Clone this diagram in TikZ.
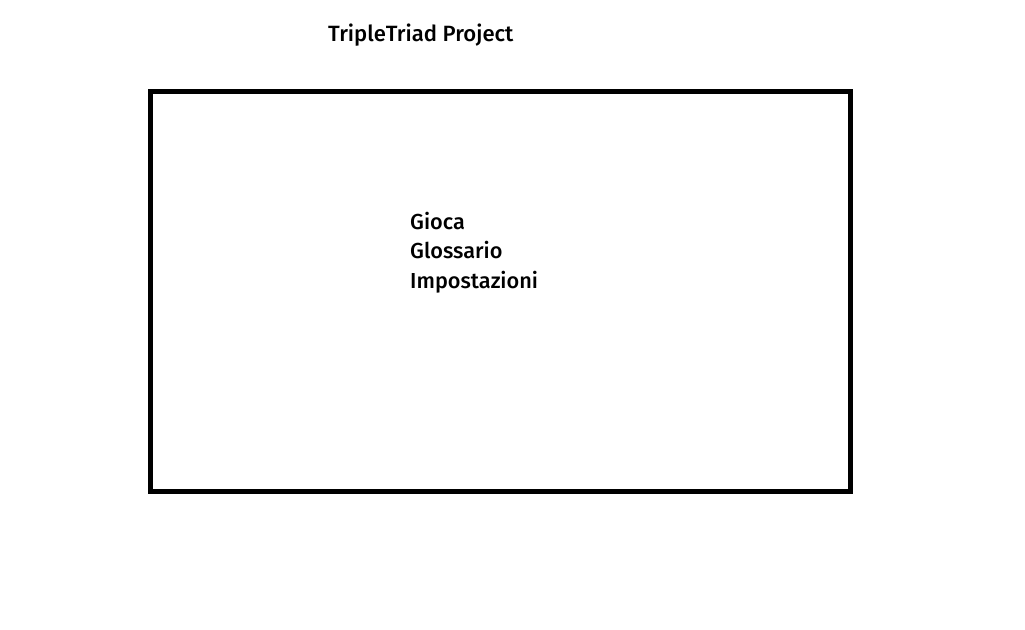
\documentclass[tikz,border=0pt]{standalone}
\usepackage{fontspec}
\setmainfont{Open Sans}
\newfontfamily\screenfont{Fira Sans Medium}
\tikzset{
  label text/.style={anchor=base west,inner sep=0pt,font=\screenfont\fontsize{21.7}{24}\selectfont},
}
\begin{document}
\begin{tikzpicture}[x=1pt,y=-1pt]
    \useasboundingbox (0,0) rectangle (1025,629);

    \node (title) [label text,font=\screenfont\fontsize{22.1}{25}\selectfont] at (328,41) {TripleTriad Project};
    \node (screen) [draw,line width=5pt,minimum width=700pt,minimum height=400pt,inner sep=0pt] at (500.5,291.5) {};

    \node (gioca) [label text] at (410,229) {Gioca};
    \node (glossario) [label text] at (410,258.5) {Glossario};
    \node (impostazioni) [label text] at (410,288) {Impostazioni};
\end{tikzpicture}
\end{document}
